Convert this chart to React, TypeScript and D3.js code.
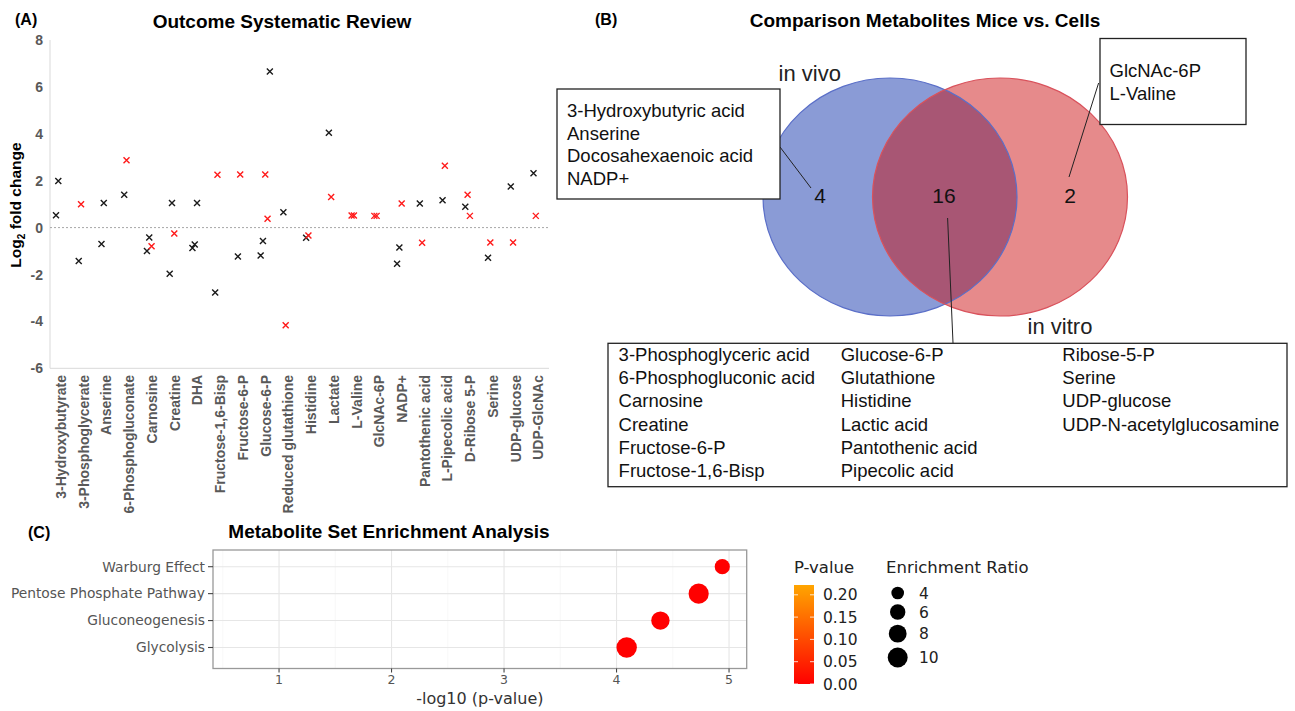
import React, { useEffect, useRef } from 'react';
import * as d3 from 'd3';

type Model = 'vivo' | 'vitro';

// Panel A: log2 fold change per metabolite, in left-to-right order within each column
const metabolites = [
  '3-Hydroxybutyrate', '3-Phosphoglycerate', 'Anserine', '6-Phosphogluconate', 'Carnosine',
  'Creatine', 'DHA', 'Fructose-1,6-Bisp', 'Fructose-6-P', 'Glucose-6-P', 'Reduced glutathione',
  'Histidine', 'Lactate', 'L-Valine', 'GlcNAc-6P', 'NADP+', 'Pantothenic acid',
  'L-Pipecolic acid', 'D-Ribose 5-P', 'Serine', 'UDP-glucose', 'UDP-GlcNAc',
];

const foldChanges: [number, Model][][] = [
  [[0.53, 'vivo'], [1.99, 'vivo']],
  [[-1.42, 'vivo'], [1.0, 'vitro']],
  [[-0.7, 'vivo'], [1.05, 'vivo']],
  [[1.4, 'vivo'], [2.87, 'vitro']],
  [[-1.0, 'vivo'], [-0.42, 'vivo'], [-0.8, 'vitro']],
  [[-1.97, 'vivo'], [1.05, 'vivo'], [-0.25, 'vitro']],
  [[-0.87, 'vivo'], [-0.72, 'vivo'], [1.05, 'vivo']],
  [[-2.77, 'vivo'], [2.25, 'vitro']],
  [[-1.23, 'vivo'], [2.26, 'vitro']],
  [[-1.19, 'vivo'], [-0.57, 'vivo'], [2.26, 'vitro'], [0.38, 'vitro'], [6.66, 'vivo']],
  [[0.65, 'vivo'], [-4.16, 'vitro']],
  [[-0.43, 'vivo'], [-0.34, 'vitro']],
  [[4.04, 'vivo'], [1.3, 'vitro']],
  [[0.52, 'vitro'], [0.52, 'vitro']],
  [[0.5, 'vitro'], [0.5, 'vitro']],
  [[-1.54, 'vivo'], [-0.85, 'vivo'], [1.03, 'vitro']],
  [[1.03, 'vivo'], [-0.65, 'vitro']],
  [[1.17, 'vivo'], [2.64, 'vitro']],
  [[0.89, 'vivo'], [1.4, 'vitro'], [0.5, 'vitro']],
  [[-1.29, 'vivo'], [-0.64, 'vitro']],
  [[1.75, 'vivo'], [-0.64, 'vitro']],
  [[2.32, 'vivo'], [0.5, 'vitro']],
];

// Panel B: Venn sets
const vivoOnly = ['3-Hydroxybutyric acid', 'Anserine', 'Docosahexaenoic acid', 'NADP+'];
const vitroOnly = ['GlcNAc-6P', 'L-Valine'];
const shared = [
  '3-Phosphoglyceric acid', '6-Phosphogluconic acid', 'Carnosine', 'Creatine', 'Fructose-6-P',
  'Fructose-1,6-Bisp', 'Glucose-6-P', 'Glutathione', 'Histidine', 'Lactic acid',
  'Pantothenic acid', 'Pipecolic acid', 'Ribose-5-P', 'Serine', 'UDP-glucose',
  'UDP-N-acetylglucosamine',
];

// Panel C: enrichment analysis
const pathways = ['Warburg Effect', 'Pentose Phosphate Pathway', 'Gluconeogenesis', 'Glycolysis'];
const negLogP = [4.94, 4.73, 4.39, 4.09];
const enrichment = [5.8, 10.2, 8.5, 10.5];
const pTicks = [0.0, 0.05, 0.1, 0.15, 0.2];
const ratioTicks = [4, 6, 8, 10];

const SANS = '"Liberation Sans", Arial, sans-serif';
const DEJAVU = '"DejaVu Sans", sans-serif';

const App: React.FC = () => {
  const svgRef = useRef<SVGSVGElement>(null);

  useEffect(() => {
    document.body.style.margin = '0';
    if (!svgRef.current) return;
    const svg = d3.select(svgRef.current);
    svg.selectAll('*').remove();

    // ---------- Panel A ----------
    const gA = svg.append('g').attr('font-family', SANS);
    const xA = d3.scalePoint(metabolites, [58, 535.5]);
    const yA = d3.scaleLinear([-6, 8], [368.3, 40]);

    gA.append('text').attr('x', 15).attr('y', 25).attr('font-size', 16).attr('font-weight', 'bold').text('(A)');
    gA.append('text').attr('x', 282).attr('y', 28).attr('text-anchor', 'middle')
      .attr('font-size', 19).attr('font-weight', 'bold').text('Outcome Systematic Review');

    gA.append('line').attr('x1', 50).attr('x2', 50).attr('y1', yA(8)).attr('y2', yA(-6))
      .attr('stroke', '#d9d9d9');
    gA.append('line').attr('x1', 50).attr('x2', 549).attr('y1', yA(-6)).attr('y2', yA(-6))
      .attr('stroke', '#d9d9d9');
    gA.append('line').attr('x1', 50).attr('x2', 549).attr('y1', yA(0)).attr('y2', yA(0))
      .attr('stroke', '#a6a6a6').attr('stroke-dasharray', '2,2');

    gA.selectAll('text.ytick').data(yA.ticks(7)).join('text')
      .attr('class', 'ytick')
      .attr('x', 43).attr('y', d => yA(d)).attr('dy', '0.36em')
      .attr('text-anchor', 'end').attr('font-size', 14).attr('font-weight', 'bold')
      .attr('fill', '#595959').text(d => d);

    const yl = gA.append('text').attr('transform', 'translate(21,205) rotate(-90)')
      .attr('text-anchor', 'middle').attr('font-size', 15.5).attr('font-weight', 'bold');
    yl.append('tspan').text('Log');
    yl.append('tspan').attr('font-size', 10).attr('dy', 4).text('2');
    yl.append('tspan').attr('dy', -4).text(' fold change');

    gA.selectAll('text.xlab').data(metabolites).join('text')
      .attr('class', 'xlab')
      .attr('transform', d => `translate(${xA(d)! + 3},375) rotate(-90)`)
      .attr('dy', '0.35em').attr('text-anchor', 'end')
      .attr('font-size', 14).attr('font-weight', 'bold').attr('fill', '#595959').text(d => d);

    const pts = foldChanges.flatMap((list, i) =>
      list.map(([v, m], j) => ({ x: xA(metabolites[i])! - 2 + 2.3 * j, y: yA(v), m })));
    gA.selectAll('path.pt').data(pts).join('path')
      .attr('class', 'pt')
      .attr('transform', d => `translate(${d.x},${d.y})`)
      .attr('d', 'M-3,-3L3,3M-3,3L3,-3')
      .attr('stroke', d => (d.m === 'vivo' ? '#1a1a1a' : '#ff1a1a'))
      .attr('stroke-width', 1.4).attr('fill', 'none');

    // ---------- Panel B ----------
    const gB = svg.append('g').attr('font-family', SANS);
    gB.append('text').attr('x', 595).attr('y', 25).attr('font-size', 16).attr('font-weight', 'bold').text('(B)');
    gB.append('text').attr('x', 925).attr('y', 27).attr('text-anchor', 'middle')
      .attr('font-size', 19).attr('font-weight', 'bold').text('Comparison Metabolites Mice vs. Cells');

    const vivoC = { cx: 890, cy: 197, rx: 127, ry: 119 };
    const vitroC = { cx: 1000, cy: 197, rx: 127.5, ry: 119 };
    const defs = svg.append('defs');
    defs.append('clipPath').attr('id', 'vitroClip').append('ellipse')
      .attr('cx', vitroC.cx).attr('cy', vitroC.cy).attr('rx', vitroC.rx).attr('ry', vitroC.ry);

    const ell = (c: typeof vivoC) => gB.append('ellipse')
      .attr('cx', c.cx).attr('cy', c.cy).attr('rx', c.rx).attr('ry', c.ry);
    ell(vivoC).attr('fill', '#8a9bd6');
    ell(vitroC).attr('fill', '#e68a8b');
    ell(vivoC).attr('fill', '#a85674').attr('clip-path', 'url(#vitroClip)');
    ell(vivoC).attr('fill', 'none').attr('stroke', '#5b6fc8').attr('stroke-width', 1.2);
    ell(vitroC).attr('fill', 'none').attr('stroke', '#d9525c').attr('stroke-width', 1.2);

    gB.append('text').attr('x', 778.6).attr('y', 81).attr('font-size', 22).attr('fill', '#222').text('in vivo');
    gB.append('text').attr('x', 1027.6).attr('y', 334).attr('font-size', 22).attr('fill', '#222').text('in vitro');

    const counts = [
      { x: 820, n: vivoOnly.length },
      { x: 944, n: shared.length },
      { x: 1070, n: vitroOnly.length },
    ];
    gB.selectAll('text.count').data(counts).join('text')
      .attr('class', 'count').attr('x', d => d.x).attr('y', 203)
      .attr('text-anchor', 'middle').attr('font-size', 21).attr('fill', '#111').text(d => d.n);

    const leader = (x1: number, y1: number, x2: number, y2: number) =>
      gB.append('line').attr('x1', x1).attr('y1', y1).attr('x2', x2).attr('y2', y2)
        .attr('stroke', '#222').attr('stroke-width', 1);
    leader(780, 147, 811, 188);
    leader(1098.6, 83, 1069, 177);
    leader(947.6, 218, 953, 343);

    const box = (x: number, y: number, w: number, h: number) =>
      gB.append('rect').attr('x', x).attr('y', y).attr('width', w).attr('height', h)
        .attr('fill', 'white').attr('stroke', '#222').attr('stroke-width', 1.3);
    const lines = (items: string[], x: number, y0: number) =>
      gB.append('g').selectAll('text').data(items).join('text')
        .attr('x', x).attr('y', (_, i) => y0 + i * 22.7)
        .attr('font-size', 18.5).attr('fill', '#111').text(d => d);

    box(557, 89, 223, 110);
    lines(vivoOnly, 567, 117);
    box(1100, 38.5, 146, 86);
    lines(vitroOnly, 1109.5, 77.3);
    box(608, 343.3, 679, 143.4);
    [shared.slice(0, 6), shared.slice(6, 12), shared.slice(12)].forEach((col, k) => {
      gB.append('g').selectAll('text').data(col).join('text')
        .attr('x', [618.6, 840.7, 1062.3][k]).attr('y', (_, i) => 361 + i * 23.2)
        .attr('font-size', 18.5).attr('fill', '#111').text(d => d);
    });

    // ---------- Panel C ----------
    const gC = svg.append('g');
    gC.append('text').attr('x', 28).attr('y', 538).attr('font-family', SANS)
      .attr('font-size', 16).attr('font-weight', 'bold').text('(C)');
    gC.append('text').attr('x', 389).attr('y', 538).attr('text-anchor', 'middle').attr('font-family', SANS)
      .attr('font-size', 19).attr('font-weight', 'bold').text('Metabolite Set Enrichment Analysis');

    const left = 213, right = 746.7, top = 550, bottom = 668.5;
    const xC = d3.scaleLinear([0.413, 5.157], [left, right]);
    const yC = d3.scalePoint(pathways, [566.7, 647.5]);
    const pColor = d3.scaleLinear<string>([0, 0.222], ['#ff0000', '#ffa500']);
    const rSize = d3.scaleSqrt([0, 10], [0, 9.96]);
    const xTicks = xC.ticks(5).filter(t => t >= 1);

    gC.selectAll('line.minor').data(d3.range(0.5, 5.01, 1)).join('line')
      .attr('class', 'minor').attr('x1', d => xC(d)).attr('x2', d => xC(d))
      .attr('y1', top).attr('y2', bottom).attr('stroke', '#f3f3f3').attr('stroke-width', 0.6);
    gC.selectAll('line.major').data(xTicks).join('line')
      .attr('class', 'major').attr('x1', d => xC(d)).attr('x2', d => xC(d))
      .attr('y1', top).attr('y2', bottom).attr('stroke', '#e6e6e6').attr('stroke-width', 1.1);
    gC.selectAll('line.hgrid').data(pathways).join('line')
      .attr('class', 'hgrid').attr('x1', left).attr('x2', right)
      .attr('y1', d => yC(d)!).attr('y2', d => yC(d)!).attr('stroke', '#e6e6e6').attr('stroke-width', 1.1);
    gC.append('rect').attr('x', left).attr('y', top).attr('width', right - left).attr('height', bottom - top)
      .attr('fill', 'none').attr('stroke', '#999').attr('stroke-width', 1.3);

    gC.selectAll('line.ytk').data(pathways).join('line')
      .attr('class', 'ytk').attr('x1', left - 5).attr('x2', left)
      .attr('y1', d => yC(d)!).attr('y2', d => yC(d)!).attr('stroke', '#444').attr('stroke-width', 1.1);
    gC.selectAll('text.ylab').data(pathways).join('text')
      .attr('class', 'ylab').attr('x', left - 8).attr('y', d => yC(d)!).attr('dy', '0.35em')
      .attr('text-anchor', 'end').attr('font-family', DEJAVU).attr('font-size', 13.8)
      .attr('fill', '#555').text(d => d);
    gC.selectAll('line.xtk').data(xTicks).join('line')
      .attr('class', 'xtk').attr('x1', d => xC(d)).attr('x2', d => xC(d))
      .attr('y1', bottom).attr('y2', bottom + 4).attr('stroke', '#444').attr('stroke-width', 1.1);
    gC.selectAll('text.xlab').data(xTicks).join('text')
      .attr('class', 'xlab').attr('x', d => xC(d)).attr('y', 684)
      .attr('text-anchor', 'middle').attr('font-family', DEJAVU).attr('font-size', 12.5)
      .attr('fill', '#555').text(d => d);
    gC.append('text').attr('x', (left + right) / 2).attr('y', 704).attr('text-anchor', 'middle')
      .attr('font-family', DEJAVU).attr('font-size', 16).attr('fill', '#333').text('-log10 (p-value)');

    gC.selectAll('circle.dot').data(pathways).join('circle')
      .attr('class', 'dot')
      .attr('cx', (_, i) => xC(negLogP[i])).attr('cy', d => yC(d)!)
      .attr('r', (_, i) => rSize(enrichment[i]))
      .attr('fill', (_, i) => pColor(Math.pow(10, -negLogP[i])));

    // colour bar legend
    const grad = defs.append('linearGradient').attr('id', 'pgrad')
      .attr('x1', 0).attr('y1', 1).attr('x2', 0).attr('y2', 0);
    grad.append('stop').attr('offset', 0).attr('stop-color', pColor(0));
    grad.append('stop').attr('offset', 1).attr('stop-color', pColor(0.222));
    const yBar = d3.scaleLinear([0, 0.222], [684, 585]);
    gC.append('text').attr('x', 794).attr('y', 573).attr('font-family', DEJAVU)
      .attr('font-size', 16.5).attr('fill', '#222').text('P-value');
    gC.append('rect').attr('x', 794).attr('y', yBar(0.222)).attr('width', 20)
      .attr('height', yBar(0) - yBar(0.222)).attr('fill', 'url(#pgrad)');
    pTicks.forEach(t => {
      gC.append('line').attr('x1', 794).attr('x2', 798).attr('y1', yBar(t)).attr('y2', yBar(t))
        .attr('stroke', 'white').attr('stroke-opacity', 0.8);
      gC.append('line').attr('x1', 810).attr('x2', 814).attr('y1', yBar(t)).attr('y2', yBar(t))
        .attr('stroke', 'white').attr('stroke-opacity', 0.8);
    });
    gC.selectAll('text.ptick').data(pTicks).join('text')
      .attr('class', 'ptick').attr('x', 823).attr('y', d => yBar(d)).attr('dy', '0.36em')
      .attr('font-family', DEJAVU).attr('font-size', 15.5).attr('fill', '#222').text(d => d.toFixed(2));

    // size legend
    gC.append('text').attr('x', 886).attr('y', 573).attr('font-family', DEJAVU)
      .attr('font-size', 16.5).attr('fill', '#222').text('Enrichment Ratio');
    let ky = 593;
    ratioTicks.forEach((v, i) => {
      if (i > 0) ky += rSize(ratioTicks[i - 1]) + rSize(v) + 5;
      gC.append('circle').attr('cx', 897.7).attr('cy', ky).attr('r', rSize(v)).attr('fill', 'black');
      gC.append('text').attr('x', 919).attr('y', ky).attr('dy', '0.36em').attr('font-family', DEJAVU)
        .attr('font-size', 15.5).attr('fill', '#222').text(v);
    });
  }, []);

  return <svg ref={svgRef} width={1295} height={711} style={{ display: 'block', background: 'white' }} />;
};

export default App;
